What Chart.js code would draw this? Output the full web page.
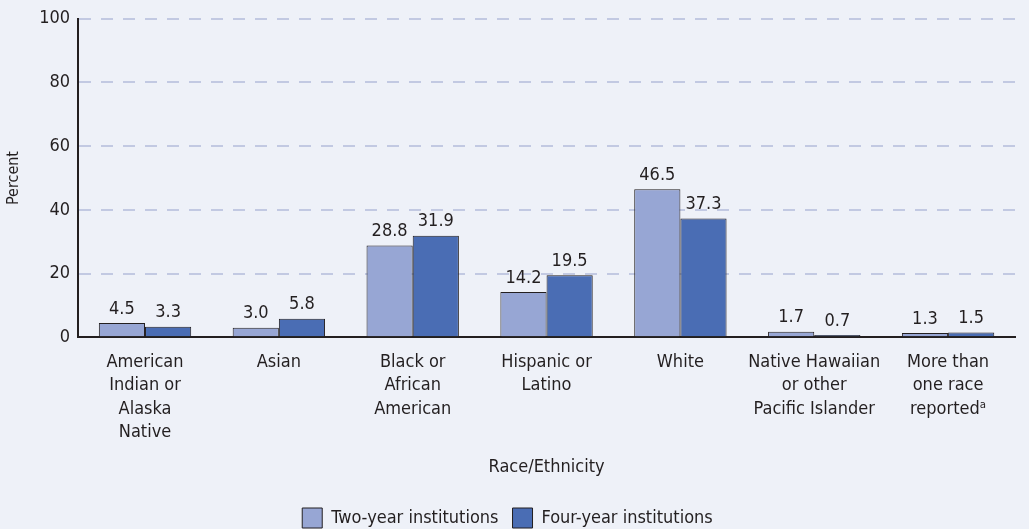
<!DOCTYPE html>
<html>
<head>
<meta charset="utf-8">
<script src="https://cdn.jsdelivr.net/npm/chart.js@4.4.1/dist/chart.umd.min.js"></script>
<style>
  html, body { margin: 0; padding: 0; background: #eef1f8; }
  #wrap { width: 1029px; height: 529px; position: relative; }
</style>
</head>
<body>
<div id="wrap"><canvas id="c"></canvas></div>
<script>
/* 数据 */
const categories = [
    ['American', 'Indian or', 'Alaska', 'Native'],
    'Asian',
    ['Black or', 'African', 'American'],
    ['Hispanic or', 'Latino'],
    'White',
    ['Native Hawaiian', 'or other', 'Pacific Islander'],
    ['More than', 'one race', 'reported\u1d43']
];
const twoYear = [4.5, 3.0, 28.8, 14.2, 46.5, 1.7, 1.3];
const fourYear = [3.3, 5.8, 31.9, 19.5, 37.3, 0.7, 1.5];
const yTicks = [0, 20, 40, 60, 80, 100];

/* 窄体字：weight 字段里塞 font-stretch */
const FAMILY = '"DejaVu Sans", sans-serif';
const STRETCH = 'condensed';
const TEXT = '#231f20';
const f = size => ({ family: FAMILY, size, weight: STRETCH });

/* 柱顶数值 */
const valueLabels = {
    id: 'valueLabels',
    afterDatasetsDraw(chart) {
        const ctx = chart.ctx;
        ctx.save();
        ctx.font = STRETCH + ' 18px ' + FAMILY;
        ctx.fillStyle = TEXT;
        ctx.textAlign = 'center';
        ctx.textBaseline = 'bottom';
        chart.data.datasets.forEach((ds, i) => {
            chart.getDatasetMeta(i).data.forEach((bar, j) => {
                ctx.fillText(ds.data[j].toFixed(1), bar.x, bar.y - 5);
            });
        });
        ctx.restore();
    }
};

new Chart(document.getElementById('c'), {
    type: 'bar',
    data: {
        labels: categories,
        datasets: [
            { label: 'Two-year institutions', data: twoYear, backgroundColor: '#97a6d4', borderColor: '#231f20', borderWidth: 1 },
            { label: 'Four-year institutions', data: fourYear, backgroundColor: '#4a6db4', borderColor: '#231f20', borderWidth: 1 }
        ]
    },
    options: {
        responsive: true,
        maintainAspectRatio: false,
        animation: false,
        devicePixelRatio: 1,
        layout: { padding: { top: 6, right: 14, left: 0, bottom: -9 } },
        datasets: { bar: { categoryPercentage: 0.69, barPercentage: 1 } },
        plugins: {
            legend: {
                position: 'bottom',
                labels: {
                    boxWidth: 20, boxHeight: 20, padding: 14,
                    color: TEXT, font: f(18)
                }
            },
            tooltip: { enabled: false }
        },
        scales: {
            x: {
                grid: { display: false },
                border: { display: true, color: '#231f20', width: 2 },
                ticks: { color: TEXT, font: { ...f(18), lineHeight: 1.28 }, maxRotation: 0, autoSkip: false, padding: 6 },
                title: { display: true, text: 'Race/Ethnicity', color: TEXT, font: f(18), padding: { top: 7, bottom: 16 } }
            },
            y: {
                min: 0, max: 100,
                afterBuildTicks: axis => { axis.ticks = yTicks.map(v => ({ value: v })); },
                grid: {
                    color: c => c.tick && c.tick.value === 0 ? 'rgba(0,0,0,0)' : '#c2c9e2',
                    lineWidth: 2,
                    drawTicks: false
                },
                border: { display: true, color: '#231f20', width: 2, dash: [12, 10] },
                ticks: { color: TEXT, font: f(18), padding: 8 },
                title: { display: true, text: 'Percent', color: TEXT, font: f(16), padding: { bottom: 8 } }
            }
        }
    },
    plugins: [valueLabels]
});
</script>
</body>
</html>
